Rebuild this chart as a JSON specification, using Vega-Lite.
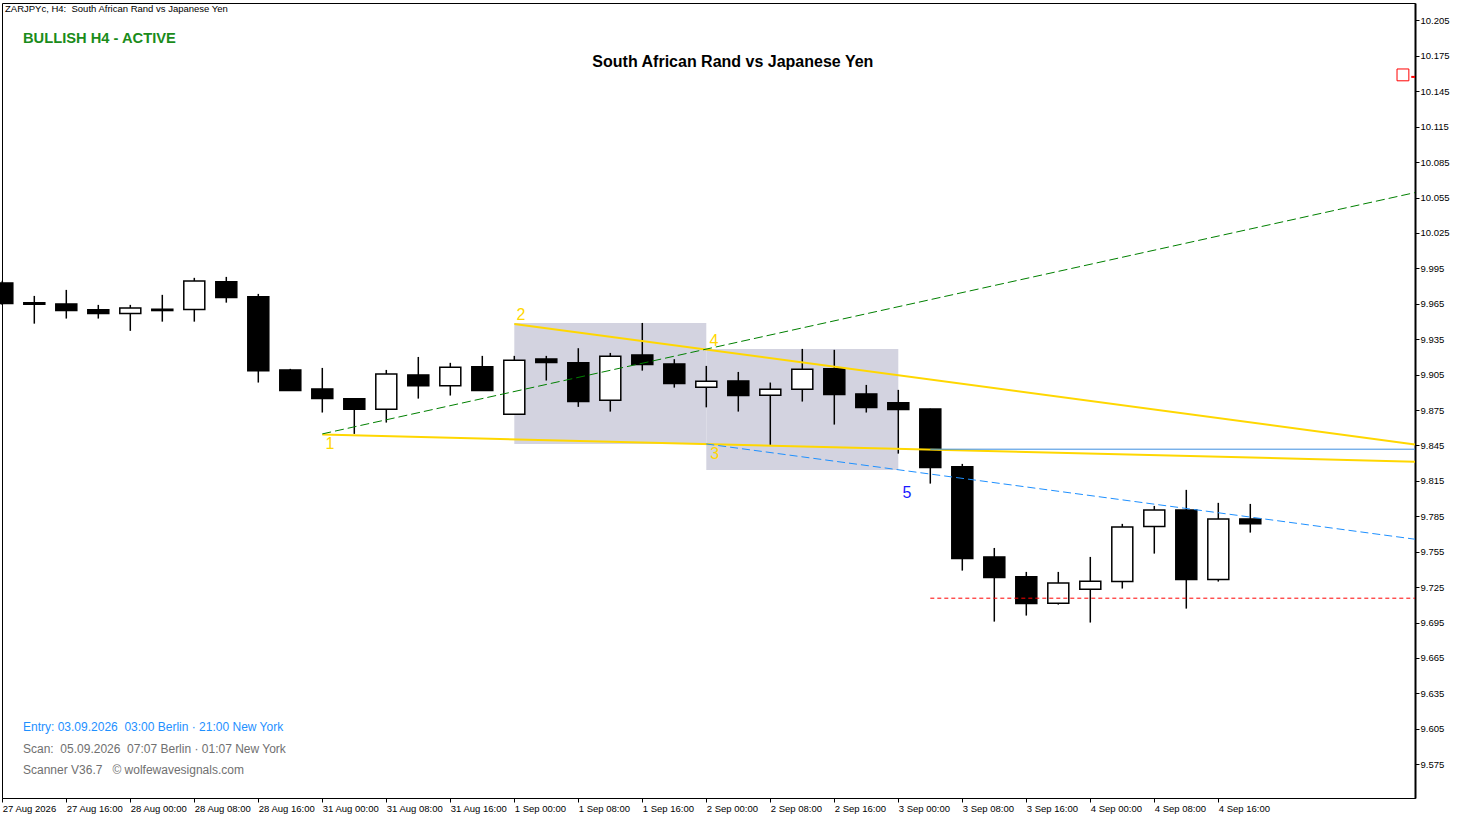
{
  "$schema": "https://vega.github.io/schema/vega-lite/v6.json",
  "width": 1413,
  "height": 795,
  "autosize": {"type": "none"},
  "padding": {"left": 2, "top": 3, "right": 43, "bottom": 22},
  "background": "white",
  "config": {
    "view": {"stroke": "black", "strokeWidth": 1},
    "font": "Liberation Sans",
    "axis": {"grid": false, "title": null, "labelOverlap": false, "labelBound": false, "labelFlush": false}
  },
  "datasets": {
    "candles": [
      {"i": 0, "t": "27 Aug 08:00", "o": 9.9827, "h": 9.9845, "l": 9.9640, "c": 9.9652},
      {"i": 1, "t": "27 Aug 12:00", "o": 9.9660, "h": 9.9717, "l": 9.9482, "c": 9.9646},
      {"i": 2, "t": "27 Aug 16:00", "o": 9.9649, "h": 9.9768, "l": 9.9525, "c": 9.9593},
      {"i": 3, "t": "27 Aug 20:00", "o": 9.9599, "h": 9.9641, "l": 9.9525, "c": 9.9567},
      {"i": 4, "t": "28 Aug 00:00", "o": 9.9567, "h": 9.9641, "l": 9.9421, "c": 9.9615},
      {"i": 5, "t": "28 Aug 04:00", "o": 9.9604, "h": 9.9726, "l": 9.9499, "c": 9.9593},
      {"i": 6, "t": "28 Aug 08:00", "o": 9.9601, "h": 9.9870, "l": 9.9499, "c": 9.9844},
      {"i": 7, "t": "28 Aug 12:00", "o": 9.9836, "h": 9.9878, "l": 9.9660, "c": 9.9703},
      {"i": 8, "t": "28 Aug 16:00", "o": 9.9709, "h": 9.9734, "l": 9.8983, "c": 9.9084},
      {"i": 9, "t": "28 Aug 20:00", "o": 9.9090, "h": 9.9099, "l": 9.8913, "c": 9.8915},
      {"i": 10, "t": "31 Aug 00:00", "o": 9.8929, "h": 9.9107, "l": 9.8729, "c": 9.8847},
      {"i": 11, "t": "31 Aug 04:00", "o": 9.8845, "h": 9.8850, "l": 9.8548, "c": 9.8757},
      {"i": 12, "t": "31 Aug 08:00", "o": 9.8757, "h": 9.9090, "l": 9.8644, "c": 9.9056},
      {"i": 13, "t": "31 Aug 12:00", "o": 9.9048, "h": 9.9200, "l": 9.8847, "c": 9.8957},
      {"i": 14, "t": "31 Aug 16:00", "o": 9.8957, "h": 9.9150, "l": 9.8873, "c": 9.9113},
      {"i": 15, "t": "31 Aug 20:00", "o": 9.9116, "h": 9.9209, "l": 9.8912, "c": 9.8915},
      {"i": 16, "t": "1 Sep 00:00", "o": 9.8715, "h": 9.9209, "l": 9.8712, "c": 9.9172},
      {"i": 17, "t": "1 Sep 04:00", "o": 9.9183, "h": 9.9209, "l": 9.9000, "c": 9.9152},
      {"i": 18, "t": "1 Sep 08:00", "o": 9.9150, "h": 9.9274, "l": 9.8777, "c": 9.8822},
      {"i": 19, "t": "1 Sep 12:00", "o": 9.8834, "h": 9.9234, "l": 9.8737, "c": 9.9206},
      {"i": 20, "t": "1 Sep 16:00", "o": 9.9217, "h": 9.9488, "l": 9.9084, "c": 9.9135},
      {"i": 21, "t": "1 Sep 20:00", "o": 9.9141, "h": 9.9181, "l": 9.8940, "c": 9.8974},
      {"i": 22, "t": "2 Sep 00:00", "o": 9.8944, "h": 9.9124, "l": 9.8773, "c": 9.8995},
      {"i": 23, "t": "2 Sep 04:00", "o": 9.8997, "h": 9.9073, "l": 9.8737, "c": 9.8873},
      {"i": 24, "t": "2 Sep 08:00", "o": 9.8876, "h": 9.8983, "l": 9.8455, "c": 9.8927},
      {"i": 25, "t": "2 Sep 12:00", "o": 9.8927, "h": 9.9268, "l": 9.8822, "c": 9.9096},
      {"i": 26, "t": "2 Sep 16:00", "o": 9.9099, "h": 9.9260, "l": 9.8627, "c": 9.8881},
      {"i": 27, "t": "2 Sep 20:00", "o": 9.8887, "h": 9.8963, "l": 9.8729, "c": 9.8771},
      {"i": 28, "t": "3 Sep 00:00", "o": 9.8811, "h": 9.8921, "l": 9.8381, "c": 9.8754},
      {"i": 29, "t": "3 Sep 04:00", "o": 9.8760, "h": 9.8762, "l": 9.8127, "c": 9.8263},
      {"i": 30, "t": "3 Sep 08:00", "o": 9.8269, "h": 9.8294, "l": 9.7390, "c": 9.7492},
      {"i": 31, "t": "3 Sep 12:00", "o": 9.7506, "h": 9.7582, "l": 9.6958, "c": 9.7331},
      {"i": 32, "t": "3 Sep 16:00", "o": 9.7337, "h": 9.7379, "l": 9.7009, "c": 9.7111},
      {"i": 33, "t": "3 Sep 20:00", "o": 9.7114, "h": 9.7379, "l": 9.7102, "c": 9.7286},
      {"i": 34, "t": "4 Sep 00:00", "o": 9.7233, "h": 9.7506, "l": 9.6950, "c": 9.7300},
      {"i": 35, "t": "4 Sep 04:00", "o": 9.7297, "h": 9.7786, "l": 9.7238, "c": 9.7760},
      {"i": 36, "t": "4 Sep 08:00", "o": 9.7763, "h": 9.7938, "l": 9.7534, "c": 9.7904},
      {"i": 37, "t": "4 Sep 12:00", "o": 9.7904, "h": 9.8074, "l": 9.7068, "c": 9.7314},
      {"i": 38, "t": "4 Sep 16:00", "o": 9.7314, "h": 9.7964, "l": 9.7297, "c": 9.7828},
      {"i": 39, "t": "4 Sep 20:00", "o": 9.7828, "h": 9.7955, "l": 9.7712, "c": 9.7788}
    ]
  },
  "layer": [
    {
      "data": {"values": [
        {"x1": 16, "x2": 22, "y1": 9.9488, "y2": 9.8463},
        {"x1": 22, "x2": 28, "y1": 9.9268, "y2": 9.8243}
      ]},
      "mark": {"type": "rect", "fill": "#d3d3e0"},
      "encoding": {
        "x": {
          "field": "x1", "type": "quantitative", "title": null,
          "scale": {"domain": [-0.0094, 44.147], "nice": false, "zero": false, "padding": 0},
          "axis": {
            "orient": "bottom", "title": null, "grid": false, "tickCount": 60,
            "values": [0, 2, 4, 6, 8, 10, 12, 14, 16, 18, 20, 22, 24, 26, 28, 30, 32, 34, 36, 38],
            "labelExpr": "['27 Aug 2026','27 Aug 16:00','28 Aug 00:00','28 Aug 08:00','28 Aug 16:00','31 Aug 00:00','31 Aug 08:00','31 Aug 16:00','1 Sep 00:00','1 Sep 08:00','1 Sep 16:00','2 Sep 00:00','2 Sep 08:00','2 Sep 16:00','3 Sep 00:00','3 Sep 08:00','3 Sep 16:00','4 Sep 00:00','4 Sep 08:00','4 Sep 16:00'][round(datum.value/2)]",
            "labelAlign": "left", "labelBaseline": "top", "labelPadding": 1,
            "labelFontSize": 9.5, "labelFont": "Liberation Sans", "labelColor": "black",
            "tickSize": 4, "tickColor": "black", "domainColor": "black", "domainWidth": 1,
            "labelOverlap": false, "labelBound": false, "labelFlush": false
          }
        },
        "x2": {"field": "x2"},
        "y": {
          "field": "y1", "type": "quantitative", "title": null,
          "scale": {"domain": [9.54638, 10.21982], "nice": false, "zero": false, "padding": 0},
          "axis": {
            "orient": "right", "title": null, "grid": false, "tickCount": 60,
            "values": [9.575, 9.605, 9.635, 9.665, 9.695, 9.725, 9.755, 9.785, 9.815, 9.845, 9.875, 9.905, 9.935, 9.965, 9.995, 10.025, 10.055, 10.085, 10.115, 10.145, 10.175, 10.205],
            "format": ".3f",
            "labelAlign": "left", "labelBaseline": "middle", "labelPadding": 1,
            "labelFontSize": 9.5, "labelFont": "Liberation Sans", "labelColor": "black",
            "tickSize": 4, "tickColor": "black", "domainColor": "black", "domainWidth": 2,
            "labelOverlap": false, "labelBound": false
          }
        },
        "y2": {"field": "y2"}
      }
    },
    {
      "data": {"name": "candles"},
      "mark": {"type": "rule", "color": "black", "strokeWidth": 1.5},
      "encoding": {
        "x": {"field": "i", "type": "quantitative", "title": null},
        "y": {"field": "l", "type": "quantitative", "title": null},
        "y2": {"field": "h"}
      }
    },
    {
      "data": {"name": "candles"},
      "mark": {"type": "bar", "width": 21, "stroke": "black", "strokeWidth": 1.5, "fillOpacity": 1},
      "encoding": {
        "x": {"field": "i", "type": "quantitative", "title": null},
        "y": {"field": "o", "type": "quantitative", "title": null},
        "y2": {"field": "c"},
        "fill": {"condition": {"test": "datum.c > datum.o", "value": "white"}, "value": "black"}
      }
    },
    {
      "data": {"values": [{"x": 16, "y": 9.9480}, {"x": 44.147, "y": 9.8459}]},
      "mark": {"type": "line", "color": "#ffd700", "strokeWidth": 2},
      "encoding": {
        "x": {"field": "x", "type": "quantitative", "title": null},
        "y": {"field": "y", "type": "quantitative", "title": null}
      }
    },
    {
      "data": {"values": [{"x": 10, "y": 9.8542}, {"x": 44.147, "y": 9.8313}]},
      "mark": {"type": "line", "color": "#ffd700", "strokeWidth": 2},
      "encoding": {
        "x": {"field": "x", "type": "quantitative", "title": null},
        "y": {"field": "y", "type": "quantitative", "title": null}
      }
    },
    {
      "data": {"values": [{"x": 10, "y": 9.8548}, {"x": 44.147, "y": 10.0592}]},
      "mark": {"type": "line", "color": "#008000", "strokeWidth": 1, "strokeDash": [9, 4]},
      "encoding": {
        "x": {"field": "x", "type": "quantitative", "title": null},
        "y": {"field": "y", "type": "quantitative", "title": null}
      }
    },
    {
      "data": {"values": [{"x": 22, "y": 9.8463}, {"x": 44.147, "y": 9.7656}]},
      "mark": {"type": "line", "color": "#1e90ff", "strokeWidth": 1, "strokeDash": [8, 4]},
      "encoding": {
        "x": {"field": "x", "type": "quantitative", "title": null},
        "y": {"field": "y", "type": "quantitative", "title": null}
      }
    },
    {
      "data": {"values": [{"x": 29, "y": 9.84185}, {"x": 44.147, "y": 9.84185}]},
      "mark": {"type": "line", "color": "#3d8fe0", "strokeWidth": 1},
      "encoding": {
        "x": {"field": "x", "type": "quantitative", "title": null},
        "y": {"field": "y", "type": "quantitative", "title": null}
      }
    },
    {
      "data": {"values": [{"x": 29, "y": 9.71563}, {"x": 44.147, "y": 9.71563}]},
      "mark": {"type": "line", "color": "#ff0000", "strokeWidth": 1, "strokeDash": [4, 3]},
      "encoding": {
        "x": {"field": "x", "type": "quantitative", "title": null},
        "y": {"field": "y", "type": "quantitative", "title": null}
      }
    },
    {
      "data": {"values": [{"x": 43.77, "y": 10.15892}]},
      "mark": {"type": "point", "shape": "square", "size": 140, "filled": false, "stroke": "#ff0000", "strokeWidth": 1, "fill": "white", "fillOpacity": 1, "opacity": 1},
      "encoding": {
        "x": {"field": "x", "type": "quantitative", "title": null},
        "y": {"field": "y", "type": "quantitative", "title": null}
      }
    },
    {
      "data": {"values": [{"x": 44.03, "x2": 44.147, "y": 10.15722}]},
      "mark": {"type": "rule", "color": "#ff0000", "strokeWidth": 2},
      "encoding": {
        "x": {"field": "x", "type": "quantitative", "title": null},
        "x2": {"field": "x2"},
        "y": {"field": "y", "type": "quantitative", "title": null}
      }
    },
    {
      "data": {"values": [
        {"x": 10.24, "y": 9.8421, "label": "1"},
        {"x": 16.21, "y": 9.9514, "label": "2"},
        {"x": 22.26, "y": 9.8336, "label": "3"},
        {"x": 22.24, "y": 9.9294, "label": "4"},
        {"x": 28.27, "y": 9.8006, "label": "5"}
      ]},
      "mark": {"type": "text", "fontSize": 16, "align": "center", "baseline": "alphabetic", "font": "Liberation Sans"},
      "encoding": {
        "x": {"field": "x", "type": "quantitative", "title": null},
        "y": {"field": "y", "type": "quantitative", "title": null},
        "text": {"field": "label"},
        "color": {"condition": {"test": "datum.label === '5'", "value": "#1a1aff"}, "value": "#ffd700"}
      }
    },
    {
      "data": {"values": [{"x": 0.084, "y": 10.21186, "label": "ZARJPYc, H4:\u00a0 South African Rand vs Japanese Yen"}]},
      "mark": {"type": "text", "fontSize": 9.5, "align": "left", "baseline": "alphabetic", "color": "black", "font": "Liberation Sans"},
      "encoding": {
        "x": {"field": "x", "type": "quantitative", "title": null},
        "y": {"field": "y", "type": "quantitative", "title": null},
        "text": {"field": "label"}
      }
    },
    {
      "data": {"values": [{"x": 0.647, "y": 10.18628, "label": "BULLISH H4 - ACTIVE"}]},
      "mark": {"type": "text", "fontSize": 14.7, "fontWeight": "bold", "align": "left", "baseline": "alphabetic", "color": "#1a8c1a", "font": "Liberation Sans"},
      "encoding": {
        "x": {"field": "x", "type": "quantitative", "title": null},
        "y": {"field": "y", "type": "quantitative", "title": null},
        "text": {"field": "label"}
      }
    },
    {
      "data": {"values": [{"x": 22.83, "y": 10.16569, "label": "South African Rand vs Japanese Yen"}]},
      "mark": {"type": "text", "fontSize": 16, "fontWeight": "bold", "align": "center", "baseline": "alphabetic", "color": "black", "font": "Liberation Sans"},
      "encoding": {
        "x": {"field": "x", "type": "quantitative", "title": null},
        "y": {"field": "y", "type": "quantitative", "title": null},
        "text": {"field": "label"}
      }
    },
    {
      "data": {"values": [{"x": 0.647, "y": 9.60322, "label": "Entry: 03.09.2026\u00a0 03:00 Berlin · 21:00 New York"}]},
      "mark": {"type": "text", "fontSize": 12, "align": "left", "baseline": "alphabetic", "color": "#1e90ff", "font": "Liberation Sans"},
      "encoding": {
        "x": {"field": "x", "type": "quantitative", "title": null},
        "y": {"field": "y", "type": "quantitative", "title": null},
        "text": {"field": "label"}
      }
    },
    {
      "data": {"values": [
        {"x": 0.647, "y": 9.58484, "label": "Scan:\u00a0 05.09.2026\u00a0 07:07 Berlin · 01:07 New York"},
        {"x": 0.647, "y": 9.56637, "label": "Scanner V36.7 \u00a0 © wolfewavesignals.com"}
      ]},
      "mark": {"type": "text", "fontSize": 12, "align": "left", "baseline": "alphabetic", "color": "#707070", "font": "Liberation Sans"},
      "encoding": {
        "x": {"field": "x", "type": "quantitative", "title": null},
        "y": {"field": "y", "type": "quantitative", "title": null},
        "text": {"field": "label"}
      }
    }
  ]
}
